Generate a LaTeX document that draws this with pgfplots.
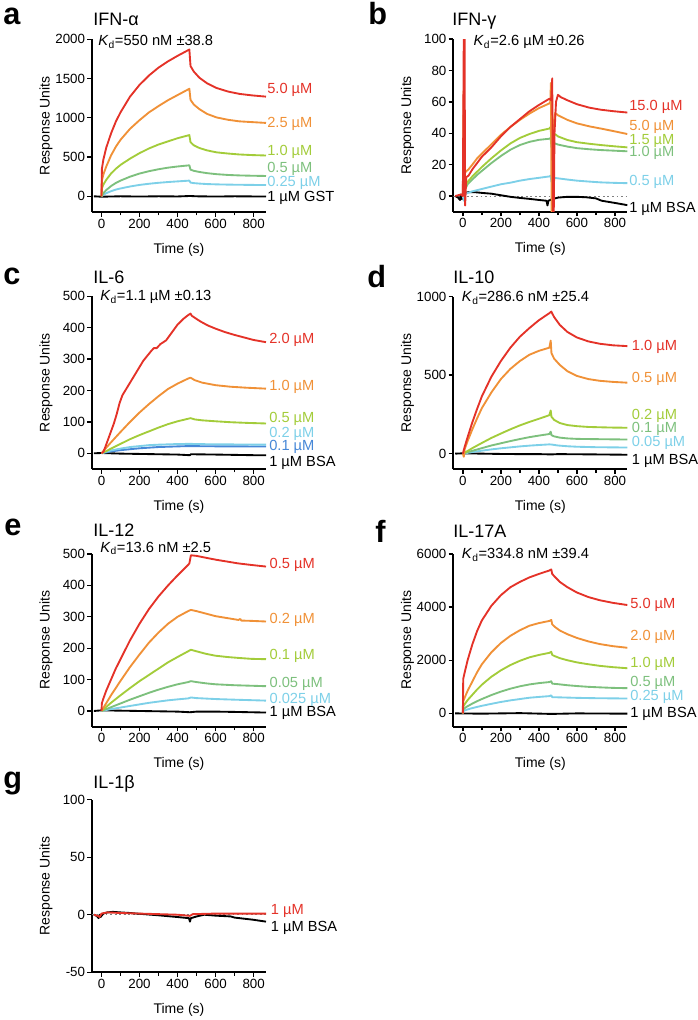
\documentclass[border=0pt]{standalone}
\usepackage{fontspec}
\setmainfont{Liberation Sans}
\usepackage{pgfplots}
\pgfplotsset{compat=1.18}

\definecolor{cred}{RGB}{228,50,40}
\definecolor{corange}{RGB}{240,145,55}
\definecolor{cyg}{RGB}{163,204,58}
\definecolor{cgreen}{RGB}{125,192,125}
\definecolor{cltblue}{RGB}{125,208,232}
\definecolor{cblue}{RGB}{70,135,215}

\pgfplotsset{
  spr/.style={
    scale only axis, width=130.5pt, height=129.5pt,
    xmin=-50, xmax=865,
    axis x line*=bottom, axis y line*=left,
    axis line style={-, line width=1.3pt},
    xtick={0,200,400,600,800}, minor xtick={100,300,500,700},
    tick align=outside, major tick length=3.5pt, minor tick length=2.5pt,
    every tick/.style={black, line width=1pt},
    tick label style={font=\fontsize{10}{12}\selectfont, inner sep=1.5pt},
    /pgf/number format/assume math mode=true,
    /pgf/number format/1000 sep={},
    scaled ticks=false,
    xlabel={Time (s)}, ylabel={Response Units},
    every axis x label/.style={at={(axis description cs:0.5,-0.2375)}, anchor=base, font=\fontsize{10.5}{12}\selectfont},
    every axis y label/.style={at={(axis description cs:-0.264,0.5)}, rotate=90, anchor=center, font=\fontsize{10.5}{12}\selectfont},
    every axis plot/.append style={line width=1.4pt, line join=round},
  },
}
\tikzset{
  lbl/.style={anchor=west, inner sep=0pt, font=\fontsize{11}{13}\selectfont},
  kd/.style={anchor=base west, inner sep=0pt, font=\fontsize{11}{13}\selectfont},
  ttl/.style={anchor=base west, inner sep=0pt, font=\fontsize{13.5}{15}\selectfont},
  pletter/.style={anchor=base west, inner sep=0pt, font=\fontsize{23}{25}\selectfont\bfseries},
}
\newcommand{\Kd}{\textit{K}\textsubscript{d}}

\begin{document}
\begin{tikzpicture}
\path[use as bounding box] (0,0) rectangle (522.75pt,-765pt);

% ---------- a: IFN-alpha
\begin{axis}[spr, at={(69pt,-159pt)}, anchor=south west,
  ymin=-200, ymax=2000, ytick={0,500,1000,1500,2000}]
\addplot[black] coordinates {(-40,0) (0,-5) (100,0) (200,-3) (300,0) (400,-2) (465,4) (500,0) (600,-3) (700,0) (865,-3)};
\addplot[cltblue] coordinates {(0,0) (10,20) (25,40) (50,65) (75,85) (100,100) (150,125) (200,145) (250,160) (300,172) (350,182) (400,190) (462,200) (468,175) (485,168) (515,162) (555,156) (605,152) (665,149) (725,147) (795,145) (865,144)};
\addplot[cgreen] coordinates {(0,0) (10,40) (25,80) (50,130) (75,170) (100,200) (150,250) (200,290) (250,320) (300,345) (350,365) (400,380) (462,395) (468,340) (485,325) (515,310) (555,295) (605,282) (665,272) (725,266) (795,262) (865,259)};
\addplot[cyg] coordinates {(0,0) (2,100) (10,150) (25,210) (50,290) (75,350) (100,400) (150,480) (200,550) (250,610) (300,660) (350,700) (400,740) (462,780) (468,690) (485,650) (515,615) (555,585) (605,560) (665,545) (725,533) (795,525) (865,520)};
\addplot[corange] coordinates {(0,0) (2,200) (10,280) (25,380) (50,520) (75,630) (100,720) (150,860) (200,970) (250,1070) (300,1150) (350,1225) (400,1290) (462,1370) (468,1230) (485,1170) (515,1110) (555,1050) (605,1005) (665,975) (725,955) (795,945) (865,935)};
\addplot[cred] coordinates {(0,0) (2,350) (10,470) (25,620) (50,800) (75,950) (100,1070) (150,1270) (200,1420) (250,1540) (300,1640) (350,1720) (400,1790) (462,1870) (468,1660) (485,1590) (515,1510) (555,1440) (605,1380) (665,1335) (725,1305) (795,1285) (865,1270)};
\end{axis}

% ---------- b: IFN-gamma
\begin{axis}[spr, at={(340pt,-158.8pt)}, anchor=south west,
  ymin=-10, ymax=100, ytick={0,20,40,60,80,100}]
\addplot[gray, dotted, line width=0.8pt] coordinates {(-50,0) (865,0)};
\addplot[black] coordinates {(-40,0) (-25,-1) (-15,-2.5) (-10,1) (-5,-2) (0,0) (10,2) (30,2.5) (60,2.5) (100,2) (150,1.5) (200,0.5) (250,-0.5) (300,-1.2) (350,-1.8) (400,-2.5) (440,-3) (445,-6) (450,-3) (470,-2) (500,-1) (550,-0.5) (600,-0.5) (650,-0.8) (700,-1.5) (730,-3) (795,-4.3) (865,-5.8)};
\addplot[cltblue] coordinates {(0,0) (5,-3) (10,1) (25,2) (50,3) (100,4.5) (150,6) (200,7.5) (250,8.5) (300,9.8) (350,10.8) (400,11.6) (455,12.5) (462,13) (466,9) (472,12) (485,11.5) (550,10.5) (600,9.8) (665,9.2) (725,8.7) (795,8.4) (865,8.2)};
\addplot[cgreen] coordinates {(0,0) (4,12) (8,5) (15,5) (25,7.5) (50,10.5) (75,13.5) (100,16) (150,21) (200,25.5) (250,29.5) (300,32.5) (350,34.5) (400,35.8) (455,36.5) (462,37) (466,31) (472,33) (485,33.5) (500,32.8) (550,31.5) (600,30.5) (665,29.8) (725,29.3) (795,28.9) (865,28.5)};
\addplot[cyg] coordinates {(0,0) (4,17) (8,8) (15,7) (25,9) (50,12.5) (75,15.5) (100,18.5) (150,24) (200,29) (250,33.5) (300,37) (350,39.5) (400,41.5) (455,43) (462,44) (466,33) (472,38) (485,39.5) (500,38) (550,35.7) (600,34.3) (665,33.3) (725,32.5) (795,31.7) (865,31)};
\addplot[corange] coordinates {(0,0) (4,67) (8,30) (12,15) (20,16) (30,17) (50,20) (75,24) (100,27) (150,33) (200,39) (250,44) (300,48.5) (350,52.5) (400,56) (455,59) (460,60) (463,72) (467,-12) (471,-12) (476,45) (485,53) (500,51.5) (550,48.5) (600,46.3) (665,44.4) (725,43) (795,41.3) (865,39.5)};
\addplot[cred] coordinates {(-40,0) (-10,1) (0,0) (5,105) (9,105) (12,-6) (18,12) (30,13) (50,17) (75,21) (100,25) (150,31) (200,38) (250,44) (300,49) (350,54) (400,58) (455,62) (465,61) (470,75) (474,-12) (478,-12) (482,40) (490,60) (500,64.5) (515,63) (550,61) (600,58.5) (665,56.3) (725,55) (795,54) (865,53.2)};
\end{axis}

% ---------- c: IL-6
\begin{axis}[spr, at={(69pt,-351.75pt)}, anchor=south west,
  ymin=-50, ymax=500, ytick={0,100,200,300,400,500}]
\addplot[black] coordinates {(-40,0) (0,1) (100,-1) (200,-2) (300,-3) (400,-4) (465,-6) (470,-3) (600,-4) (700,-5) (800,-6) (865,-6)};
\addplot[cblue] coordinates {(0,0) (25,3) (50,6) (100,10) (150,13) (200,16) (250,18) (300,20) (350,21) (400,22) (455,23) (468,23) (550,22.5) (650,22) (750,22) (865,21.5)};
\addplot[cltblue] coordinates {(0,0) (25,5) (50,9) (100,15) (150,20) (200,23) (250,26) (300,27.5) (350,28.5) (400,29.5) (455,30) (468,30) (550,29) (650,28.5) (750,28) (865,27.5)};
\addplot[cyg] coordinates {(0,0) (25,7) (50,15) (100,30) (150,45) (200,58) (250,70) (300,82) (350,93) (400,102) (455,110) (468,112) (490,108) (530,105) (600,102) (680,99) (760,97) (865,95)};
\addplot[corange] coordinates {(0,0) (25,18) (50,35) (100,68) (150,100) (200,130) (250,157) (300,182) (350,205) (400,222) (455,238) (468,241) (490,233) (530,225) (600,217) (680,212) (760,209) (865,206)};
\addplot[cred] coordinates {(0,0) (10,5) (20,20) (35,45) (50,70) (65,95) (80,125) (95,160) (110,185) (130,205) (160,235) (190,265) (220,295) (260,325) (275,335) (290,335) (310,348) (340,360) (370,385) (400,410) (430,428) (455,440) (468,445) (475,438) (490,432) (520,420) (560,407) (600,397) (650,386) (700,377) (750,369) (800,361) (865,354)};
\end{axis}

% ---------- d: IL-10
\begin{axis}[spr, at={(340pt,-352pt)}, anchor=south west,
  ymin=-100, ymax=1000, ytick={0,500,1000}]
\addplot[black] coordinates {(-40,0) (0,2) (100,0) (200,-2) (300,-3) (400,-3) (465,-5) (500,-3) (600,-4) (700,-5) (865,-7)};
\addplot[cltblue] coordinates {(0,0) (25,5) (50,10) (100,19) (150,27) (200,34) (250,40) (300,46) (350,51) (400,55) (455,59) (466,58) (500,52) (550,47) (600,44) (700,41) (865,39)};
\addplot[cgreen] coordinates {(0,0) (25,9) (50,18) (100,35) (150,52) (200,66) (250,80) (300,93) (350,105) (400,115) (455,125) (462,140) (466,118) (480,110) (510,102) (550,97) (600,94) (660,93) (720,92) (790,91) (865,90)};
\addplot[cyg] coordinates {(0,0) (25,17) (50,35) (100,68) (150,100) (200,128) (250,155) (300,180) (350,202) (400,222) (455,245) (462,275) (466,235) (480,215) (510,195) (550,182) (600,175) (660,170) (720,168) (790,166) (865,165)};
\addplot[corange] coordinates {(0,0) (5,-20) (10,30) (25,80) (50,155) (75,225) (100,290) (150,390) (200,475) (250,540) (300,590) (350,630) (400,655) (455,675) (462,720) (466,640) (480,605) (510,565) (550,525) (600,495) (660,475) (720,464) (790,457) (865,452)};
\addplot[cred] coordinates {(0,0) (10,45) (25,105) (50,200) (75,285) (100,365) (150,490) (200,590) (250,675) (300,745) (350,800) (400,850) (455,895) (465,905) (480,870) (510,820) (550,775) (600,740) (660,715) (720,700) (790,690) (865,685)};
\end{axis}

% ---------- e: IL-12
\begin{axis}[spr, at={(69pt,-545pt)}, anchor=south west,
  ymin=-50, ymax=500, ytick={0,100,200,300,400,500}]
\addplot[black] coordinates {(-40,0) (0,2) (100,1) (200,0) (300,-1) (400,-2) (465,-4) (500,-2) (600,-2) (700,-3) (865,-5)};
\addplot[cltblue] coordinates {(0,0) (25,3) (50,6) (100,11) (150,16) (200,21) (250,26) (300,30) (350,34) (400,37) (455,40) (470,43) (500,41) (600,38) (700,36) (865,33)};
\addplot[cgreen] coordinates {(0,0) (25,6) (50,12) (100,24) (150,36) (200,47) (250,58) (300,68) (350,77) (400,85) (455,92) (470,95) (500,92) (550,88) (600,85) (700,82) (865,79)};
\addplot[cyg] coordinates {(0,0) (25,13) (50,26) (100,50) (150,73) (200,95) (250,115) (300,135) (350,155) (400,172) (455,190) (470,195) (500,190) (550,182) (600,176) (660,172) (720,169) (790,166) (865,165)};
\addplot[corange] coordinates {(0,0) (25,25) (50,50) (75,73) (100,96) (150,140) (200,180) (250,218) (300,250) (350,278) (400,300) (455,318) (470,322) (500,318) (550,310) (600,302) (660,296) (720,290) (730,293) (735,288) (790,287) (865,285)};
\addplot[cred] coordinates {(0,0) (2,25) (10,40) (25,65) (50,100) (75,135) (100,165) (150,225) (200,278) (250,325) (300,365) (350,400) (400,432) (455,465) (462,470) (470,496) (500,494) (550,488) (600,482) (660,476) (720,470) (790,465) (865,460)};
\end{axis}

% ---------- f: IL-17A
\begin{axis}[spr, at={(340pt,-545pt)}, anchor=south west,
  ymin=-500, ymax=6000, ytick={0,2000,4000,6000}]
\addplot[black] coordinates {(-40,0) (100,-10) (300,10) (465,-20) (600,0) (865,-10)};
\addplot[cltblue] coordinates {(0,0) (2,80) (10,110) (25,150) (50,200) (75,245) (100,285) (150,360) (200,430) (250,490) (300,540) (350,590) (400,620) (455,650) (465,680) (470,610) (500,605) (550,595) (600,585) (700,572) (865,560)};
\addplot[cgreen] coordinates {(0,0) (2,150) (10,200) (25,270) (50,370) (75,460) (100,540) (150,690) (200,820) (250,930) (300,1020) (350,1090) (400,1140) (455,1180) (465,1210) (470,1120) (500,1100) (550,1060) (600,1030) (660,1000) (720,980) (790,960) (865,950)};
\addplot[cyg] coordinates {(0,0) (2,250) (10,350) (25,500) (50,700) (75,900) (100,1080) (150,1380) (200,1620) (250,1820) (300,1980) (350,2110) (400,2200) (455,2280) (465,2320) (470,2200) (485,2150) (510,2080) (550,2000) (600,1920) (660,1850) (720,1790) (790,1740) (865,1700)};
\addplot[corange] coordinates {(0,0) (2,450) (10,600) (25,850) (50,1200) (75,1550) (100,1850) (150,2300) (200,2650) (250,2920) (300,3130) (350,3300) (400,3400) (455,3480) (465,3520) (470,3350) (485,3250) (510,3120) (550,2980) (600,2840) (660,2710) (720,2610) (790,2530) (865,2470)};
\addplot[cred] coordinates {(0,0) (2,1300) (10,1550) (25,2000) (50,2600) (75,3100) (100,3500) (150,4050) (200,4450) (250,4750) (300,4950) (350,5120) (400,5250) (455,5380) (465,5420) (470,5250) (485,5130) (510,4950) (550,4750) (600,4550) (660,4380) (720,4260) (790,4160) (865,4080)};
\end{axis}

% ---------- g: IL-1beta
\begin{axis}[spr, at={(69pt,-729.2pt)}, anchor=south west,
  ymin=-50, ymax=100, ytick={-50,0,50,100}]
\addplot[gray, dotted, line width=0.8pt] coordinates {(-50,0) (865,0)};
\addplot[black] coordinates {(-40,0) (-25,-1) (-15,-3) (-10,0) (-5,-2) (10,1) (30,2) (60,2.5) (100,2) (150,1.5) (200,0.8) (300,-0.5) (400,-2) (460,-3) (465,-6) (470,-3) (500,-1.5) (540,0) (600,-0.8) (680,-1.5) (700,-2.5) (795,-4.3) (865,-6)};
\addplot[cred] coordinates {(-40,0) (-20,-1) (-10,-2) (0,1) (30,2) (100,1.5) (200,1) (300,0.5) (400,0) (465,-1) (480,0.5) (600,1) (700,1) (865,1)};
\end{axis}

% ---------- panel letters and titles
\node[pletter] at (2.25pt,-18.75pt) {a};
\node[pletter] at (276pt,-18.75pt) {b};
\node[pletter] at (2.25pt,-213pt) {c};
\node[pletter] at (275.25pt,-215.25pt) {d};
\node[pletter] at (3pt,-401.25pt) {e};
\node[pletter] at (281.25pt,-406.5pt) {f};
\node[pletter] at (2.25pt,-591pt) {g};

\node[ttl] at (69.75pt,-19.5pt) {IFN-α};
\node[ttl] at (339pt,-19.5pt) {IFN-γ};
\node[ttl] at (69.75pt,-212.25pt) {IL-6};
\node[ttl] at (339.75pt,-212.25pt) {IL-10};
\node[ttl] at (69.75pt,-402pt) {IL-12};
\node[ttl] at (339.75pt,-402.75pt) {IL-17A};
\node[ttl] at (69.75pt,-591pt) {IL-1β};

% ---------- Kd
\node[kd] at (73.5pt,-34.5pt) {\Kd=550 nM ±38.8};
\node[kd] at (355pt,-34.5pt) {\Kd=2.6 µM ±0.26};
\node[kd] at (75pt,-225.5pt) {\Kd=1.1 µM ±0.13};
\node[kd] at (346.25pt,-226.25pt) {\Kd=286.6 nM ±25.4};
\node[kd] at (75pt,-414pt) {\Kd=13.6 nM ±2.5};
\node[kd] at (346.25pt,-419pt) {\Kd=334.8 nM ±39.4};

% ---------- curve labels
\node[lbl, text=cred] at (200.25pt,-67.5pt) {5.0 µM};
\node[lbl, text=corange] at (200.25pt,-93pt) {2.5 µM};
\node[lbl, text=cyg] at (200.25pt,-114.2pt) {1.0 µM};
\node[lbl, text=cgreen] at (200.25pt,-127pt) {0.5 µM};
\node[lbl, text=cltblue] at (200.25pt,-137.5pt) {0.25 µM};
\node[lbl] at (200.25pt,-148.5pt) {1 µM GST};

\node[lbl, text=cred] at (471.75pt,-80.5pt) {15.0 µM};
\node[lbl, text=corange] at (471.75pt,-95pt) {5.0 µM};
\node[lbl, text=cyg] at (471.75pt,-105.5pt) {1.5 µM};
\node[lbl, text=cgreen] at (471.75pt,-115pt) {1.0 µM};
\node[lbl, text=cltblue] at (471.75pt,-136.7pt) {0.5 µM};
\node[lbl] at (471.75pt,-157pt) {1 µM BSA};

\node[lbl, text=cred] at (201.75pt,-255pt) {2.0 µM};
\node[lbl, text=corange] at (201.75pt,-290pt) {1.0 µM};
\node[lbl, text=cyg] at (201.75pt,-314.25pt) {0.5 µM};
\node[lbl, text=cltblue] at (201.75pt,-325.5pt) {0.2 µM};
\node[lbl, text=cblue] at (201.75pt,-335.5pt) {0.1 µM};
\node[lbl] at (201.75pt,-347pt) {1 µM BSA};

\node[lbl, text=cred] at (473.75pt,-260.5pt) {1.0 µM};
\node[lbl, text=corange] at (473.75pt,-284.25pt) {0.5 µM};
\node[lbl, text=cyg] at (473.75pt,-311.75pt) {0.2 µM};
\node[lbl, text=cgreen] at (473.75pt,-322pt) {0.1 µM};
\node[lbl, text=cltblue] at (473.75pt,-332pt) {0.05 µM};
\node[lbl] at (473.75pt,-345.75pt) {1 µM BSA};

\node[lbl, text=cred] at (202pt,-423.75pt) {0.5 µM};
\node[lbl, text=corange] at (202pt,-465pt) {0.2 µM};
\node[lbl, text=cyg] at (202pt,-491.75pt) {0.1 µM};
\node[lbl, text=cgreen] at (202pt,-513pt) {0.05 µM};
\node[lbl, text=cltblue] at (202pt,-525pt) {0.025 µM};
\node[lbl] at (202pt,-534.5pt) {1 µM BSA};

\node[lbl, text=cred] at (472.5pt,-453.75pt) {5.0 µM};
\node[lbl, text=corange] at (472.5pt,-477.5pt) {2.0 µM};
\node[lbl, text=cyg] at (472.5pt,-498pt) {1.0 µM};
\node[lbl, text=cgreen] at (472.5pt,-512pt) {0.5 µM};
\node[lbl, text=cltblue] at (472.5pt,-523pt) {0.25 µM};
\node[lbl] at (472.5pt,-535.5pt) {1 µM BSA};

\node[lbl, text=cred] at (203pt,-683pt) {1 µM};
\node[lbl] at (203pt,-696.25pt) {1 µM BSA};
\end{tikzpicture}
\end{document}
